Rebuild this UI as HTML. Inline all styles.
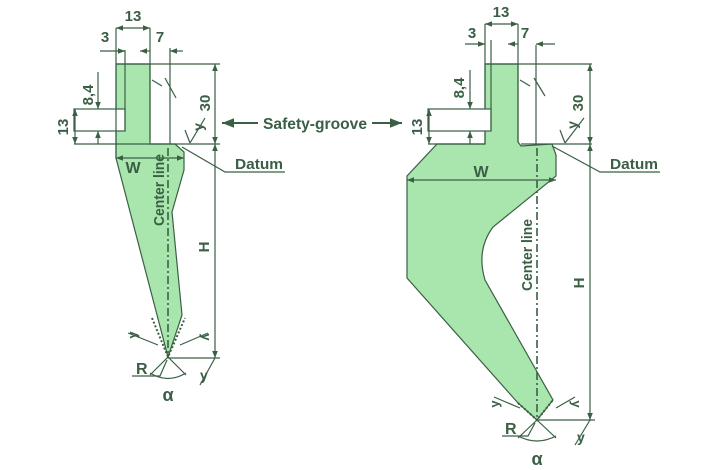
<!DOCTYPE html>
<html><head><meta charset="utf-8"><style>
html,body{margin:0;padding:0;background:#fff;width:710px;height:470px;overflow:hidden}
svg text{font-family:"Liberation Sans",sans-serif;font-weight:bold;fill:#3a5f45}
</style></head><body>
<svg width="710" height="470" viewBox="0 0 710 470" xmlns="http://www.w3.org/2000/svg">
<defs>
<marker id="a" viewBox="0 0 10 10" refX="10" refY="5" markerWidth="6" markerHeight="6" orient="auto-start-reverse"><path d="M0,1 L10,5 L0,9z" fill="#3a5f45"/></marker>
</defs>
<g stroke="#3a5f45" stroke-width="1.2" fill="none">
<path d="M116,64 L150,64 L150,144 L175,144 L184,152 L184,170 L172,212 L182,315 L168,357 L116,158 Z" fill="#a9e6ad"/>
<rect x="74" y="109" width="51" height="22" fill="#fff"/>
<line x1="116" y1="28" x2="116" y2="158"/>
<line x1="150" y1="28" x2="150" y2="140"/>
<line x1="125" y1="50" x2="125" y2="131"/>
<line x1="170" y1="48" x2="170" y2="144"/>
<line x1="116" y1="64" x2="220" y2="64"/>
<line x1="74" y1="144" x2="220" y2="144"/>
<line x1="116" y1="28" x2="150" y2="28" marker-start="url(#a)" marker-end="url(#a)"/>
<line x1="100" y1="51" x2="125" y2="51" marker-end="url(#a)"/>
<line x1="140" y1="51" x2="150" y2="51" marker-start="url(#a)"/>
<line x1="183" y1="51" x2="170" y2="51" marker-end="url(#a)"/>
<line x1="98" y1="72" x2="98" y2="109" marker-end="url(#a)"/>
<line x1="98" y1="144" x2="98" y2="131" marker-end="url(#a)"/>
<line x1="75" y1="109" x2="75" y2="144" marker-start="url(#a)" marker-end="url(#a)"/>
<line x1="215" y1="64" x2="215" y2="144" marker-start="url(#a)" marker-end="url(#a)"/>
<line x1="215" y1="144" x2="215" y2="358" marker-start="url(#a)" marker-end="url(#a)"/>
<line x1="168" y1="358" x2="220" y2="358"/>
<line x1="116" y1="158" x2="184" y2="158" marker-start="url(#a)" marker-end="url(#a)"/>
<line x1="168" y1="148" x2="168" y2="357" stroke-dasharray="8,3,2,3" stroke-width="1.6"/>
<path d="M152,80 L162,86 M165,78 L176,98"/>
<path d="M190,143 L185,130 M190,143 L205,118"/>
<path d="M182,147 L225,172 L285,172"/>
<path d="M152,318 L168,357 L185,318" stroke-dasharray="2,2" stroke-width="2"/>
<path d="M128,333 L158,345 M208,333 L180,345"/>
<path d="M168,357 L150,375 M168,357 L186,375"/>
<path d="M150,373 Q168,384 186,373"/>
<path d="M132,376 L160,376 L167,360"/>
<path d="M200,385 L215,358"/>
<path d="M485,64 L518,64 L518,142 L521,146 L552,144 L556,155 L556,176 L493,227 Q476,250 485,280 L553,400 L537,420 L518,403 L407,278 L407,176 L437,144 L485,144 Z" fill="#a9e6ad"/>
<rect x="428" y="109" width="63" height="22" fill="#fff"/>
<line x1="485" y1="24" x2="485" y2="109"/>
<line x1="485" y1="131" x2="485" y2="144"/>
<line x1="518" y1="24" x2="518" y2="142"/>
<line x1="491" y1="40" x2="491" y2="131"/>
<line x1="536" y1="45" x2="536" y2="144"/>
<line x1="485" y1="64" x2="592" y2="64"/>
<line x1="428" y1="144" x2="485" y2="144"/>
<line x1="521" y1="144" x2="592" y2="144"/>
<line x1="485" y1="24" x2="518" y2="24" marker-start="url(#a)" marker-end="url(#a)"/>
<line x1="465" y1="44" x2="485" y2="44" marker-end="url(#a)"/>
<line x1="508" y1="44" x2="518" y2="44" marker-start="url(#a)"/>
<line x1="555" y1="44" x2="536" y2="44" marker-end="url(#a)"/>
<line x1="470" y1="70" x2="470" y2="109" marker-end="url(#a)"/>
<line x1="470" y1="144" x2="470" y2="131" marker-end="url(#a)"/>
<line x1="429" y1="109" x2="429" y2="144" marker-start="url(#a)" marker-end="url(#a)"/>
<line x1="590" y1="64" x2="590" y2="144" marker-start="url(#a)" marker-end="url(#a)"/>
<line x1="590" y1="144" x2="590" y2="420" marker-start="url(#a)" marker-end="url(#a)"/>
<line x1="537" y1="420" x2="595" y2="420"/>
<line x1="407" y1="180" x2="556" y2="180" marker-start="url(#a)" marker-end="url(#a)"/>
<line x1="537" y1="148" x2="537" y2="420" stroke-dasharray="8,3,2,3" stroke-width="1.6"/>
<path d="M520,80 L530,86 M534,78 L545,96"/>
<path d="M565,143 L560,130 M565,143 L584,118"/>
<path d="M552,146 L600,172 L660,172"/>
<path d="M518,403 L537,420 L553,400" stroke-dasharray="2,2" stroke-width="2"/>
<path d="M494,397 L520,408 M575,397 L556,408"/>
<path d="M537,420 L518,438 M537,420 L556,438"/>
<path d="M518,436 Q537,446 556,436"/>
<path d="M502,436 L528,436 L535,423"/>
<path d="M575,445 L590,420"/>
<line x1="258" y1="123" x2="222" y2="123" marker-end="url(#a)" stroke-width="2"/>
<line x1="372" y1="123" x2="402" y2="123" marker-end="url(#a)" stroke-width="2"/>
</g>
<g font-size="15">
<text x="133" y="21" text-anchor="middle">13</text>
<text x="105" y="42" text-anchor="middle">3</text>
<text x="160" y="42" text-anchor="middle">7</text>
<text x="501" y="17" text-anchor="middle">13</text>
<text x="472" y="38" text-anchor="middle">3</text>
<text x="525" y="38" text-anchor="middle">7</text>
<text x="263" y="129" font-size="16" textLength="104" lengthAdjust="spacingAndGlyphs">Safety-groove</text>
<text x="235" y="169" textLength="48" lengthAdjust="spacingAndGlyphs">Datum</text>
<text x="610" y="169" textLength="48" lengthAdjust="spacingAndGlyphs">Datum</text>
<text x="133" y="173" text-anchor="middle" font-size="16">W</text>
<text x="481" y="177" text-anchor="middle" font-size="16">W</text>
<text x="136" y="374" font-size="16">R</text>
<text x="505" y="434" font-size="16">R</text>
<text x="168" y="401" text-anchor="middle" font-size="18">α</text>
<text x="537" y="465" text-anchor="middle" font-size="18">α</text>
<g transform="translate(93,95) rotate(-90)"><text text-anchor="middle">8,4</text></g>
<g transform="translate(68,127) rotate(-90)"><text text-anchor="middle">13</text></g>
<g transform="translate(210,103) rotate(-90)"><text text-anchor="middle">30</text></g>
<g transform="translate(209,247) rotate(-90)"><text text-anchor="middle">H</text></g>
<g transform="translate(164,190) rotate(-90)"><text text-anchor="middle" textLength="72" lengthAdjust="spacingAndGlyphs">Center line</text></g>
<g transform="translate(464,88) rotate(-90)"><text text-anchor="middle">8,4</text></g>
<g transform="translate(422,127) rotate(-90)"><text text-anchor="middle">13</text></g>
<g transform="translate(583,103) rotate(-90)"><text text-anchor="middle">30</text></g>
<g transform="translate(584,283) rotate(-90)"><text text-anchor="middle">H</text></g>
<g transform="translate(532,255) rotate(-90)"><text text-anchor="middle" textLength="72" lengthAdjust="spacingAndGlyphs">Center line</text></g>
<g transform="translate(203,127) rotate(-90)"><text text-anchor="middle" font-size="14">y</text></g>
<g transform="translate(577,125) rotate(-90)"><text text-anchor="middle" font-size="14">y</text></g>
<g transform="translate(137,335) rotate(-90)"><text text-anchor="middle" font-size="13">y</text></g>
<g transform="translate(202,337) rotate(90)"><text text-anchor="middle" font-size="13">y</text></g>
<g transform="translate(499,404) rotate(-90)"><text text-anchor="middle" font-size="13">y</text></g>
<g transform="translate(572,404) rotate(90)"><text text-anchor="middle" font-size="13">y</text></g>
<text x="200" y="380" font-size="14">y</text>
<text x="577" y="442" font-size="14">y</text>
</g>
</svg>
</body></html>
